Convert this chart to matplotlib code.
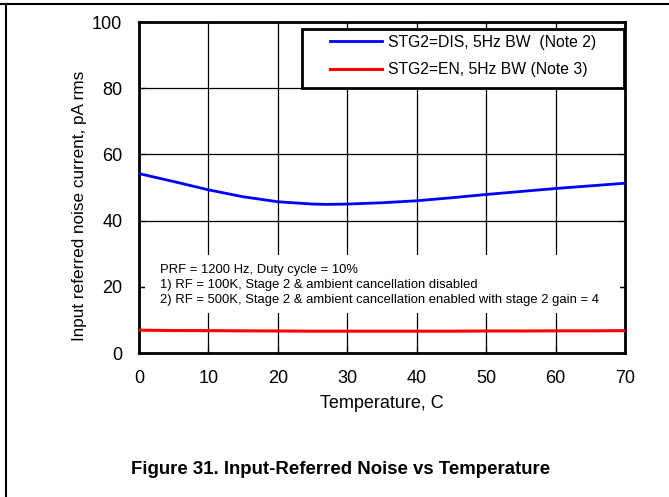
"""Input-referred noise vs temperature (Figure 31)."""
import matplotlib
matplotlib.use("Agg")
import matplotlib.pyplot as plt
from matplotlib.lines import Line2D
from matplotlib.patches import Rectangle

plt.rcParams["font.family"] = ["Liberation Sans", "DejaVu Sans"]

# data
temp = [0, 5, 10, 15, 20, 25, 27, 30, 35, 40, 45, 50, 55, 60, 65, 70]
noise_dis = [54.2, 51.8, 49.3, 47.2, 45.7, 45.0, 44.9, 45.0, 45.4, 46.0, 46.9, 47.9, 48.8, 49.7, 50.5, 51.3]
noise_en = [6.9, 6.8, 6.75, 6.7, 6.65, 6.6, 6.6, 6.6, 6.6, 6.6, 6.6, 6.65, 6.65, 6.7, 6.7, 6.75]
label_dis = "STG2=DIS, 5Hz BW  (Note 2)"
label_en = "STG2=EN, 5Hz BW (Note 3)"
x_ticks = [0, 10, 20, 30, 40, 50, 60, 70]
y_ticks = [0, 20, 40, 60, 80, 100]
note = ("PRF = 1200 Hz, Duty cycle = 10%\n"
        "1) RF = 100K, Stage 2 & ambient cancellation disabled\n"
        "2) RF = 500K, Stage 2 & ambient cancellation enabled with stage 2 gain = 4")

fig = plt.figure(figsize=(6.69, 4.97), dpi=100)
ax = fig.add_axes([0.2078, 0.2897, 0.7265, 0.666])

ax.plot(temp, noise_dis, color="#0000ff", lw=2.0, label=label_dis, zorder=4)
ax.plot(temp, noise_en, color="#ff0000", lw=2.2, label=label_en, zorder=4)

ax.set_xlim(0, 70)
ax.set_ylim(0, 100)
ax.set_xticks(x_ticks)
ax.set_yticks(y_ticks)
ax.grid(True, color="black", lw=0.9)
ax.tick_params(direction="in", length=5, width=0.9, labelsize=13,
               right=True, top=False, pad=12)
for sp in ax.spines.values():
    sp.set_linewidth(2.0)

ax.set_xlabel("Temperature, C", fontsize=13)
ax.set_ylabel("Input referred noise current, pA rms", fontsize=12.3)
ax.xaxis.set_label_coords(0.5, -0.128)
ax.yaxis.set_label_coords(-0.107, 0.445)

# white box behind the conditions note hides the grid
ax.add_patch(Rectangle((0.013, 0.121), 0.976, 0.175, transform=ax.transAxes,
                       facecolor="white", edgecolor="none", zorder=3))
ax.text(0.044, 0.270, note, transform=ax.transAxes, fontsize=9.4,
        va="top", ha="left", linespacing=1.34, zorder=5)

# legend frame drawn separately (wide padding on the sides)
ax.add_patch(Rectangle((0.335, 0.801), 0.663, 0.178, transform=ax.transAxes,
                       facecolor="white", edgecolor="black", lw=2.0, zorder=6))
leg = ax.legend(loc="upper left", bbox_to_anchor=(0.393, 0.962), fontsize=11.3,
                frameon=False, borderpad=0.0, labelspacing=0.82,
                handlelength=3.3, handletextpad=0.38, borderaxespad=0.0)
leg.set_zorder(7)

# page frame lines (top and left)
fig.add_artist(Line2D([0, 1], [0.992, 0.992], color="black", lw=1.5))
fig.add_artist(Line2D([0.009, 0.009], [0, 0.992], color="black", lw=1.5))

fig.text(0.509, 0.056, "Figure 31. Input-Referred Noise vs Temperature",
         ha="center", va="center", fontsize=13.4, fontweight="bold")

fig.savefig("out.png", dpi=100)
plt.close(fig)
